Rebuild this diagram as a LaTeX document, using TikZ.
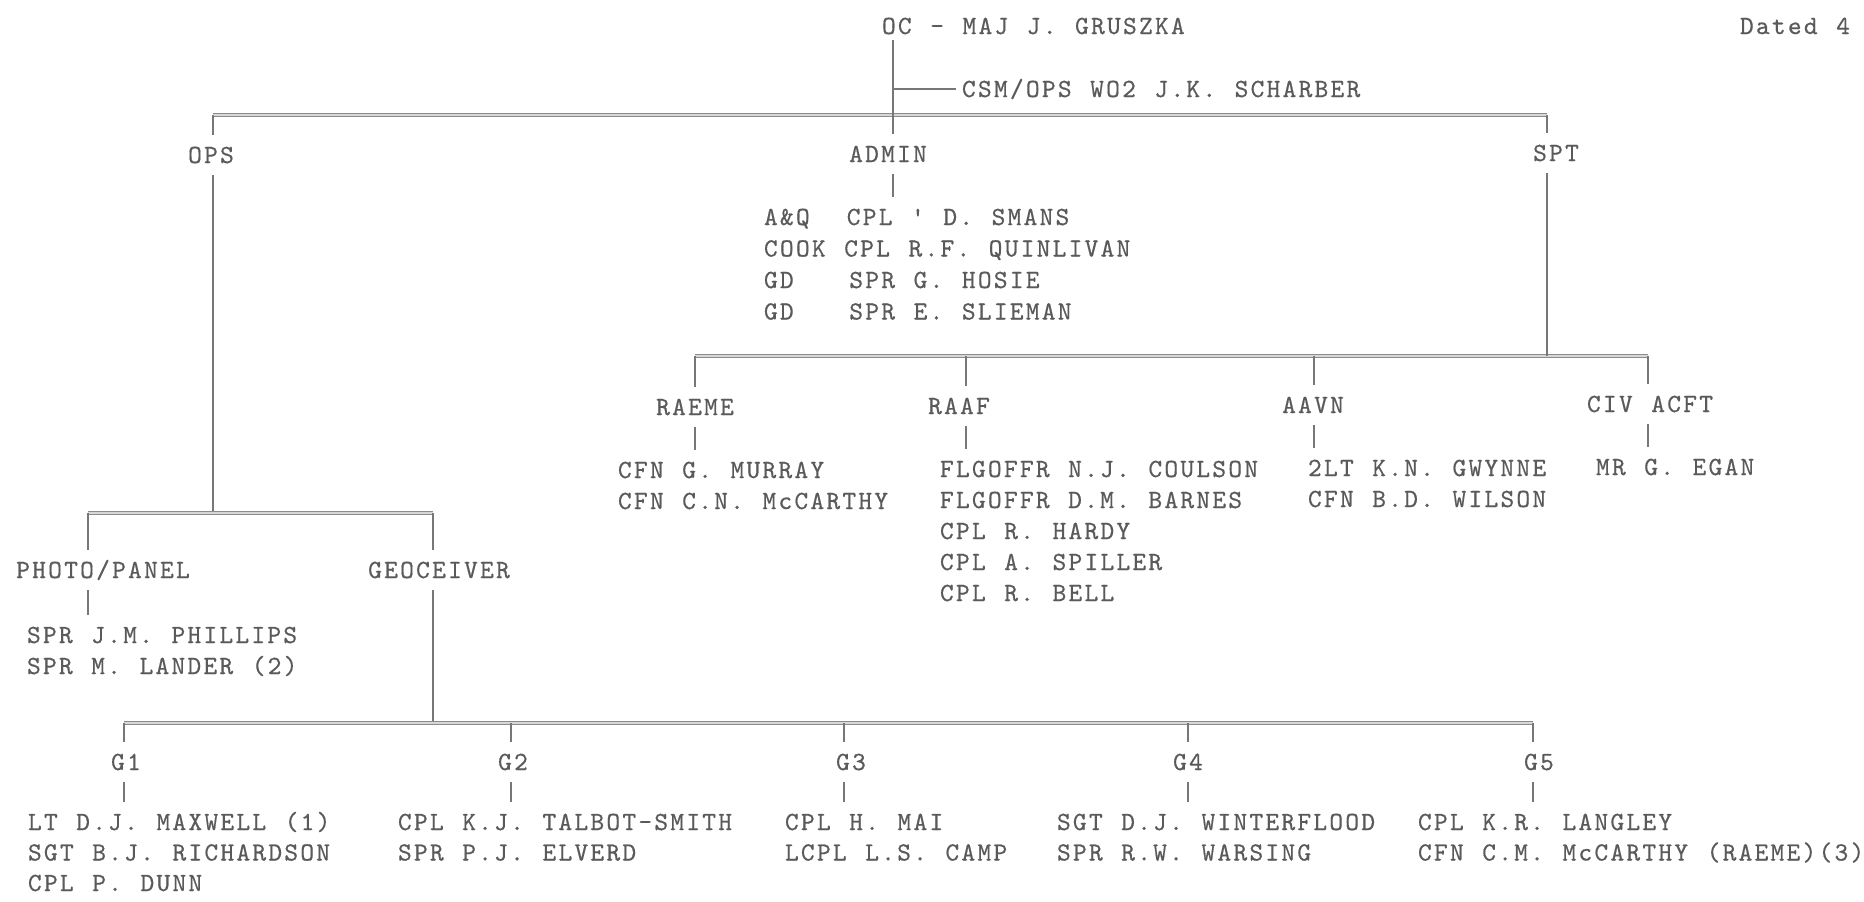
\documentclass[tikz,border=0pt]{standalone}
\usepackage{fontspec}
\newfontfamily\tw{lmmono10-regular.otf}[LetterSpace=8.5, WordSpace=1.16, FakeBold=0.5]
\definecolor{tInk}{HTML}{5A5A5A}
\definecolor{tLine}{HTML}{777777}
\definecolor{tRail}{HTML}{8C8C8C}
\tikzset{
  lab/.style   = {font={\tw\fontsize{13.1pt}{15pt}\selectfont\frenchspacing}, text=tInk,
                  inner sep=0pt, outer sep=6pt, text height=8pt, text depth=0pt},
  entry/.style = {lab, anchor=west},
  stem/.style  = {draw=tLine, line width=0.9pt},
  rail/.style  = {draw=tRail, double=tRail!35, double distance=0.7pt, line width=0.45pt},
}
\begin{document}
\begin{tikzpicture}[x=0.5pt, y=-0.5pt]
  \fill[white] (0,0) rectangle (1864,901);
  \useasboundingbox (0,0) rectangle (1864,901);
  % head of the unit
  \node[entry, outer sep=3pt] (oc) at (876,26) {OC - MAJ J. GRUSZKA};
  \node[entry] (dated) at (1728,26) {Dated 4 O};
  \node[entry, outer sep=3pt] (csm) at (956,89) {CSM/OPS WO2 J.K. SCHARBER};
  \node[lab] (ops)   at (211,155)  {OPS};
  \node[lab] (admin) at (888,154)  {ADMIN};
  \node[lab] (spt)   at (1556,153) {SPT};
  \foreach \nm [count=\i] in {A\&Q~~CPL ' D. SMANS, COOK CPL R.F. QUINLIVAN,
                              GD~~~SPR G. HOSIE, GD~~~SPR E. SLIEMAN}
    \node[entry] (adm-\i) at (752,{217+31.5*(\i-1)}) {\nm};
  % SPT sections
  \node[lab] (raeme) at (695,407)  {RAEME};
  \node[lab] (raaf)  at (959,406)  {RAAF};
  \node[lab] (aavn)  at (1313,405) {AAVN};
  \node[lab] (civ)   at (1650,404) {CIV ACFT};
  \foreach \nm [count=\i] in {CFN G. MURRAY, CFN C.N. McCARTHY}
    \node[entry] (rm-\i) at (606,{470+31*(\i-1)}) {\nm};
  \foreach \nm [count=\i] in {FLGOFFR N.J. COULSON, FLGOFFR D.M. BARNES,
                              CPL R. HARDY, CPL A. SPILLER, CPL R. BELL}
    \node[entry] (rf-\i) at (928,{469+31*(\i-1)}) {\nm};
  \foreach \nm [count=\i] in {2LT K.N. GWYNNE, CFN B.D. WILSON}
    \node[entry] (av-\i) at (1296,{468+31*(\i-1)}) {\nm};
  \node[entry] (cv-1) at (1584,467) {MR G. EGAN};
  % OPS sections
  \node[lab] (photo) at (103,570) {PHOTO/PANEL};
  \node[lab] (geo)   at (439,570) {GEOCEIVER};
  \foreach \nm [count=\i] in {SPR J.M. PHILLIPS, SPR M. LANDER (2)}
    \node[entry] (pp-\i) at (15,{635+31*(\i-1)}) {\nm};
  % geoceiver teams
  \foreach \g/\x in {1/126, 2/513, 3/851, 4/1188, 5/1539}
    \node[lab] (g\g) at (\x,762) {G\g};
  \foreach \g/\x/\lst in {1/16/{LT D.J. MAXWELL (1), SGT B.J. RICHARDSON, CPL P. DUNN},
                          2/386/{CPL K.J. TALBOT-SMITH, SPR P.J. ELVERD},
                          3/773/{CPL H. MAI, LCPL L.S. CAMP},
                          4/1045/{SGT D.J. WINTERFLOOD, SPR R.W. WARSING},
                          5/1406/{CPL K.R. LANGLEY, CFN C.M. McCARTHY (RAEME)(3)}}
    \foreach \nm [count=\j] in \lst
      \node[entry] (gl\g-\j) at (\x,{822+30.5*(\j-1)}) {\nm};

  % top bar
  \coordinate (t-ops) at (213,115);
  \coordinate (t-adm) at (893,115);
  \coordinate (t-spt) at (1547,115);
  \draw[rail] (t-ops) -- (t-spt);
  \draw[stem] (t-ops) -- (t-ops |- ops.north);
  \draw[stem] (t-spt) -- (t-spt |- spt.north);
  \draw[stem] (t-adm |- oc.south) -- (t-adm |- admin.north);
  \draw[stem] (t-adm |- csm.west) -- (csm.west);
  \draw[stem] (t-adm |- admin.south) -- (t-adm |- adm-1.north);
  % SPT bar
  \coordinate (s-raeme) at (695,356);
  \coordinate (s-raaf)  at (966,356);
  \coordinate (s-aavn)  at (1314,356);
  \coordinate (s-civ)   at (1648,356);
  \draw[rail] (s-raeme) -- (s-civ);
  \draw[stem] (t-spt |- spt.south) -- (t-spt |- s-civ);
  \foreach \s/\l in {raeme/rm, raaf/rf, aavn/av, civ/cv} {
    \draw[stem] (s-\s) -- (s-\s |- \s.north);
    \draw[stem] (s-\s |- \s.south) -- (s-\s |- \l-1.north);
  }
  % OPS bar
  \coordinate (o-photo) at (88,513);
  \coordinate (o-geo)   at (433,513);
  \draw[stem] (t-ops |- ops.south) -- (t-ops |- o-photo);
  \draw[rail] (o-photo) -- (o-geo);
  \draw[stem] (o-photo) -- (o-photo |- photo.north);
  \draw[stem] (o-geo) -- (o-geo |- geo.north);
  \draw[stem] (o-photo |- photo.south) -- (o-photo |- pp-1.north);
  % geoceiver bar
  \foreach \g/\x in {1/124, 2/511, 3/844, 4/1188, 5/1533}
    \coordinate (gb-\g) at (\x,723);
  \draw[stem] (o-geo |- geo.south) -- (o-geo |- gb-1);
  \draw[rail] (gb-1) -- (gb-5);
  \foreach \g in {1,...,5} {
    \draw[stem] (gb-\g) -- (gb-\g |- g\g.north);
    \draw[stem] (gb-\g |- g\g.south) -- (gb-\g |- gl\g-1.north);
  }
\end{tikzpicture}
\end{document}
